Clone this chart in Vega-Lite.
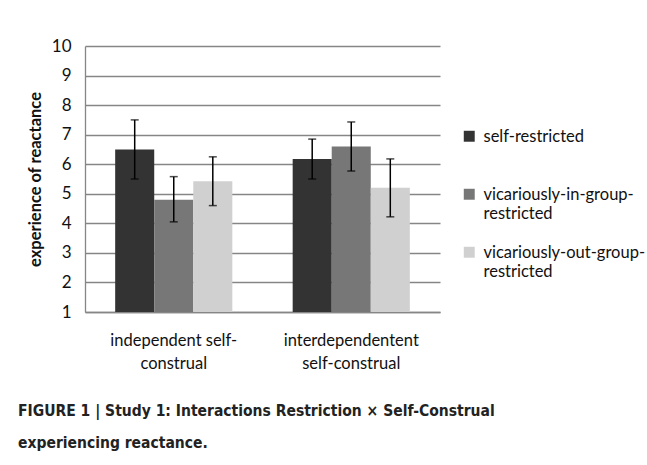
{
  "$schema": "https://vega.github.io/schema/vega-lite/v6.json",
  "width": 355,
  "height": 266,
  "autosize": {"type": "none"},
  "padding": {"left": 85, "top": 46, "right": 207, "bottom": 153},
  "background": "white",
  "config": {
    "view": {"stroke": null},
    "font": "Lato",
    "axis": {"labelFont": "Lato", "titleFont": "Lato", "labelColor": "#111", "titleColor": "#111"},
    "legend": {"labelFont": "Lato", "labelColor": "#111"}
  },
  "data": {
    "values": [
      {"group": "independent self-construal", "condition": "self-restricted", "mean": 6.5, "lo": 5.5, "hi": 7.5},
      {"group": "independent self-construal", "condition": "vicariously-in-group-restricted", "mean": 4.8, "lo": 4.05, "hi": 5.58},
      {"group": "independent self-construal", "condition": "vicariously-out-group-restricted", "mean": 5.42, "lo": 4.6, "hi": 6.25},
      {"group": "interdependentent self-construal", "condition": "self-restricted", "mean": 6.18, "lo": 5.5, "hi": 6.85},
      {"group": "interdependentent self-construal", "condition": "vicariously-in-group-restricted", "mean": 6.6, "lo": 5.77, "hi": 7.43},
      {"group": "interdependentent self-construal", "condition": "vicariously-out-group-restricted", "mean": 5.2, "lo": 4.22, "hi": 6.18}
    ]
  },
  "title": {
    "text": ["FIGURE 1 | Study 1: Interactions Restriction × Self-Construal", "experiencing reactance."],
    "orient": "bottom",
    "anchor": "start",
    "frame": "group",
    "dx": -67,
    "offset": 32,
    "font": "DejaVu Sans Condensed, Liberation Sans",
    "fontSize": 15.5,
    "fontWeight": "bold",
    "lineHeight": 32,
    "color": "#222"
  },
  "encoding": {
    "x": {
      "field": "group",
      "type": "nominal",
      "sort": ["independent self-construal", "interdependentent self-construal"],
      "scale": {"paddingInner": 0.34, "paddingOuter": 0.17},
      "axis": {
        "title": null,
        "labelAngle": 0,
        "ticks": false,
        "domainColor": "#868686",
        "domainWidth": 1.3,
        "labelFontSize": 16.5,
        "labelPadding": 20,
        "labelLineHeight": 23,
        "labelExpr": "datum.label == 'independent self-construal' ? ['independent self-', 'construal'] : ['interdependentent', 'self-construal']"
      }
    },
    "xOffset": {
      "field": "condition",
      "type": "nominal",
      "sort": ["self-restricted", "vicariously-in-group-restricted", "vicariously-out-group-restricted"],
      "scale": {"paddingInner": 0, "paddingOuter": 0}
    },
    "y": {
      "field": "mean",
      "type": "quantitative",
      "scale": {"domain": [1, 10], "zero": false, "nice": false},
      "axis": {
        "title": "experience of reactance",
        "titleFontSize": 16.5,
        "titleFontWeight": "bold",
        "titlePadding": 8,
        "values": [1, 2, 3, 4, 5, 6, 7, 8, 9, 10],
        "labelOverlap": false,
        "grid": true,
        "gridColor": "#868686",
        "gridWidth": 1.3,
        "domainColor": "#868686",
        "domainWidth": 1.3,
        "ticks": false,
        "labelFontSize": 17,
        "labelPadding": 14
      }
    }
  },
  "layer": [
    {
      "mark": {"type": "bar"},
      "encoding": {
        "y2": {"datum": 1},
        "color": {
          "field": "condition",
          "type": "nominal",
          "scale": {
            "domain": ["self-restricted", "vicariously-in-group-restricted", "vicariously-out-group-restricted"],
            "range": ["#333333", "#777777", "#d0d0d0"]
          },
          "legend": {
            "title": null,
            "orient": "none",
            "legendX": 376,
            "legendY": 82,
            "symbolType": "square",
            "symbolSize": 120,
            "symbolStrokeWidth": 0,
            "labelFontSize": 16.5,
            "labelOffset": 6,
            "labelLimit": 300,
            "labelBaseline": "top",
            "rowPadding": 21,
            "encode": {"labels": {"update": {"dy": {"value": -7}}}},
            "labelExpr": "datum.label == 'self-restricted' ? ['self-restricted', ' '] : datum.label == 'vicariously-in-group-restricted' ? ['vicariously-in-group-', 'restricted'] : ['vicariously-out-group-', 'restricted']"
          }
        }
      }
    },
    {
      "mark": {"type": "rule", "color": "black", "strokeWidth": 1.5},
      "encoding": {
        "y": {"field": "lo", "type": "quantitative"},
        "y2": {"field": "hi"}
      }
    },
    {
      "mark": {"type": "tick", "color": "black", "thickness": 1.5, "size": 8},
      "encoding": {"y": {"field": "lo", "type": "quantitative"}}
    },
    {
      "mark": {"type": "tick", "color": "black", "thickness": 1.5, "size": 8},
      "encoding": {"y": {"field": "hi", "type": "quantitative"}}
    }
  ]
}
